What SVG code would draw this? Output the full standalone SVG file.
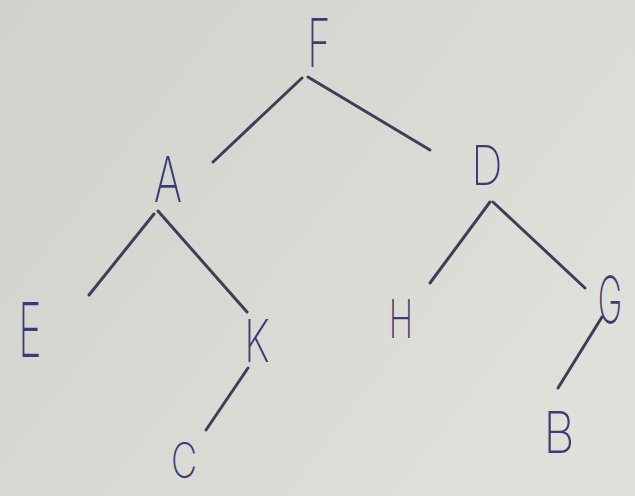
<svg xmlns="http://www.w3.org/2000/svg" width="635" height="496" viewBox="0 0 635 496">
<defs>
<linearGradient id="paper" x1="0" y1="0" x2="1" y2="0.6">
<stop offset="0" stop-color="#d2d2cd"/>
<stop offset="0.6" stop-color="#dadad5"/>
<stop offset="1" stop-color="#e0e0db"/>
</linearGradient>
<style>
.edge{stroke:#3d3e58;stroke-width:3;stroke-linecap:round;fill:none}
.lbl{font-family:Inter,Lato,"Liberation Sans",sans-serif;font-weight:200;font-size:60px;fill:#3c3b74;text-anchor:middle}
</style>
</defs>
<rect width="635" height="496" fill="url(#paper)"/>
<g id="connectors">
<line class="edge" x1="302" y1="78" x2="213" y2="162"/>
<line class="edge" x1="308" y1="77" x2="430" y2="150"/>
<line class="edge" x1="154" y1="214" x2="89" y2="295"/>
<line class="edge" x1="158" y1="211" x2="247" y2="312"/>
<line class="edge" x1="490" y1="202" x2="430" y2="283"/>
<line class="edge" x1="493" y1="202" x2="585" y2="288"/>
<line class="edge" x1="248" y1="368" x2="206" y2="430"/>
<line class="edge" x1="602" y1="317" x2="558" y2="388"/>
</g>
<g id="node-F"><text class="lbl" transform="translate(319,67) scale(0.65,1.12)">F</text></g>
<g id="node-A"><text class="lbl" transform="translate(168,202) scale(0.72,1.05)">A</text></g>
<g id="node-D"><text class="lbl" transform="translate(487,185) scale(0.72,0.92)">D</text></g>
<g id="node-E"><text class="lbl" transform="translate(30,357) scale(0.65,1.25)">E</text></g>
<g id="node-K"><text class="lbl" transform="translate(257,362) scale(0.68,0.98)">K</text></g>
<g id="node-H"><text class="lbl" transform="translate(401,338) scale(0.55,0.9)">H</text></g>
<g id="node-G"><text class="lbl" transform="translate(610,323) scale(0.55,1.08)">G</text></g>
<g id="node-C"><text class="lbl" transform="translate(184,478) scale(0.6,0.82)">C</text></g>
<g id="node-B"><text class="lbl" transform="translate(559,453) scale(0.8,0.95)">B</text></g>
</svg>
